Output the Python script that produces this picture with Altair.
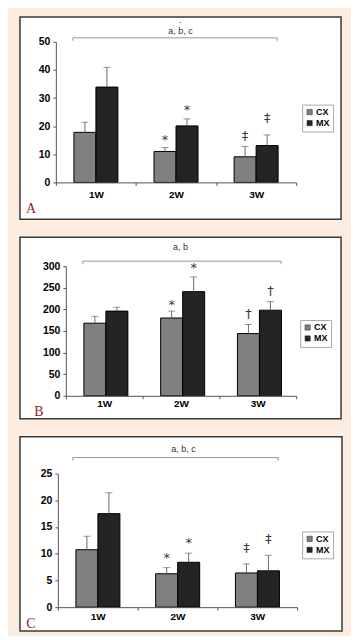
import altair as alt
import pandas as pd

weeks = ["1W", "2W", "3W"]
groups = ["CX", "MX"]

# Panel A
a_cx = [17.8, 11.0, 9.1]
a_mx = [33.9, 20.1, 13.1]
a_cx_up = [21.4, 12.4, 12.8]
a_mx_up = [40.9, 22.6, 16.9]
a_cx_sig = ["", "*", "‡"]
a_mx_sig = ["", "*", "‡"]
a_cx_sig_y = [0, 15.5, 17.0]
a_mx_sig_y = [0, 26.0, 23.4]
a_ticks = [0, 10, 20, 30, 40, 50]
a_note = "a, b, c"

# Panel B
b_cx = [168, 180, 144]
b_mx = [196, 241, 198]
b_cx_up = [184, 196, 165]
b_mx_up = [205, 275, 218]
b_cx_sig = ["", "*", "†"]
b_mx_sig = ["", "*", "†"]
b_cx_sig_y = [0, 213, 192]
b_mx_sig_y = [0, 297, 244]
b_ticks = [0, 50, 100, 150, 200, 250, 300]
b_note = "a, b"

# Panel C
c_cx = [10.75, 6.25, 6.4]
c_mx = [17.5, 8.4, 6.8]
c_cx_up = [13.25, 7.4, 8.1]
c_mx_up = [21.4, 10.1, 9.7]
c_cx_sig = ["", "*", "‡"]
c_mx_sig = ["", "*", "‡"]
c_cx_sig_y = [0, 9.4, 11.25]
c_mx_sig_y = [0, 12.25, 12.9]
c_ticks = [0, 5, 10, 15, 20, 25]
c_note = "a, b, c"

letters = ["A", "B", "C"]

FONT = "Liberation Sans"
one = pd.DataFrame({"k": [0]})


def make_df(cx, mx, cx_up, mx_up, cx_sig, mx_sig, cx_sy, mx_sy):
    rows = []
    for i, w in enumerate(weeks):
        rows.append(dict(week=w, group="CX", value=cx[i], upper=cx_up[i], sig=cx_sig[i], sig_y=cx_sy[i]))
        rows.append(dict(week=w, group="MX", value=mx[i], upper=mx_up[i], sig=mx_sig[i], sig_y=mx_sy[i]))
    return pd.DataFrame(rows)


def panel(df, ticks, W, H, xr0, pad_outer, rect, bracket, note, note_xy, dot, letter, letter_xy, leg_xy, xlabpad):
    ymax = ticks[-1]
    x = alt.X("week:N", sort=weeks, title=None,
              scale=alt.Scale(paddingInner=0, paddingOuter=0, range=[xr0, W]),
              axis=alt.Axis(labelAngle=0, tickBand="extent", tickSize=3, tickColor="#555",
                            domainColor="#555", labelFont=FONT, labelFontSize=10,
                            labelFontWeight="bold", labelColor="black", labelPadding=xlabpad,
                            grid=False, zindex=1))
    xo = alt.XOffset("group:N", sort=groups,
                     scale=alt.Scale(paddingInner=0, paddingOuter=pad_outer))
    yaxis = alt.Axis(values=ticks, tickSize=3, tickColor="#555", domainColor="#555",
                     labelFont=FONT, labelFontSize=10.5, labelFontWeight="bold",
                     labelColor="black", labelPadding=3, grid=False, zindex=1,
                     labelOverlap=False, labelFlush=False, offset=-xr0)
    yscale = alt.Scale(domain=[0, ymax], nice=False, zero=True)

    def ye(field):
        return alt.Y(field, title=None, scale=yscale, axis=yaxis)

    bg = alt.Chart(one).mark_rect(fill="white", stroke="#3a3a3a", strokeWidth=1.5).encode(
        x=alt.value(rect[0]), x2=alt.value(rect[1]), y=alt.value(rect[2]), y2=alt.value(rect[3]))
    base = alt.Chart(df)
    bars = base.mark_bar(stroke="black", strokeWidth=1).encode(
        x=x, xOffset=xo, y=ye("value:Q"),
        color=alt.Color("group:N", sort=groups,
                        scale=alt.Scale(domain=groups, range=["#808080", "#242424"]),
                        legend=alt.Legend(title=None, orient="none", legendX=leg_xy[0], legendY=leg_xy[1],
                                          symbolType="square", symbolSize=28, symbolStrokeColor="#222",
                                          symbolStrokeWidth=0.5, labelFont=FONT, labelFontSize=9,
                                          labelFontWeight="bold", labelColor="black", strokeColor="#aaa",
                                          fillColor="white", padding=3, rowPadding=1, labelOffset=2,
                                          symbolOffset=0)))
    err = base.mark_rule(color="#6a6a6a", strokeWidth=1).encode(
        x=x, xOffset=xo, y=ye("value:Q"), y2="upper:Q")
    cap = base.mark_tick(color="#6a6a6a", thickness=1, size=7).encode(
        x=x, xOffset=xo, y=ye("upper:Q"))
    sig = base.transform_filter("datum.sig != ''").mark_text(
        fontSize=13, color="#3a3a3a", font="DejaVu Sans", baseline="middle", dy=1).encode(
        x=x, xOffset=xo, y=ye("sig_y:Q"), text="sig:N")
    br = alt.Chart(one).mark_rule(color="#999", strokeWidth=1).encode(
        x=alt.value(bracket[0]), x2=alt.value(bracket[1]), y=alt.value(bracket[2]))
    brl = alt.Chart(one).mark_rule(color="#999", strokeWidth=1).encode(
        x=alt.value(bracket[0]), y=alt.value(bracket[2]), y2=alt.value(bracket[2] + 3))
    brr = alt.Chart(one).mark_rule(color="#999", strokeWidth=1).encode(
        x=alt.value(bracket[1]), y=alt.value(bracket[2]), y2=alt.value(bracket[2] + 3))
    nt = alt.Chart(one).mark_text(font=FONT, fontSize=9, color="#333", baseline="middle").encode(
        x=alt.value(note_xy[0]), y=alt.value(note_xy[1]), text=alt.value(note))
    lt = alt.Chart(one).mark_text(font="Liberation Serif", fontSize=14, color="#8a1c2e",
                                  baseline="middle").encode(
        x=alt.value(letter_xy[0]), y=alt.value(letter_xy[1]), text=alt.value(letter))
    layers = [bg, bars, err, cap, sig, br, brl, brr, nt, lt]
    if dot is not None:
        layers.append(alt.Chart(one).mark_text(font=FONT, fontSize=9, color="#333").encode(
            x=alt.value(dot[0]), y=alt.value(dot[1]), text=alt.value("·")))
    return alt.layer(*layers).properties(width=W, height=H)


dfa = make_df(a_cx, a_mx, a_cx_up, a_mx_up, a_cx_sig, a_mx_sig, a_cx_sig_y, a_mx_sig_y)
dfb = make_df(b_cx, b_mx, b_cx_up, b_mx_up, b_cx_sig, b_mx_sig, b_cx_sig_y, b_mx_sig_y)
dfc = make_df(c_cx, c_mx, c_cx_up, c_mx_up, c_cx_sig, c_mx_sig, c_cx_sig_y, c_mx_sig_y)

pa = panel(dfa, a_ticks, 241, 141, 0, 0.82, (-36, 286, -25, 178), (17, 222, -4), a_note, (125, -11),
           (125, -20), letters[0], (-25, 168), (247, 63), 4)
pb = panel(dfb, b_ticks, 241, 130, 10, 0.75, (-36, 286, -29, 153), (27, 226, -5), b_note, (125, -19),
           None, letters[1], (-17, 146), (245, 54), 0)
pc = panel(dfc, c_ticks, 242, 134, 2, 0.78, (-36, 287, -37, 158), (17, 223, -16), c_note, (128, -25),
           None, letters[2], (-25, 151), (247, 58), 1)

chart = alt.vconcat(pa, pb, pc, spacing=16).resolve_scale(
    x="independent", y="independent", color="independent").resolve_legend(
    color="independent").properties(
    background="#fdece0",
    padding={"left": 11, "top": 7, "right": 8, "bottom": 3},
).configure_view(stroke=None)

chart.save("out.html", embed_options={"renderer": "svg", "actions": False})
